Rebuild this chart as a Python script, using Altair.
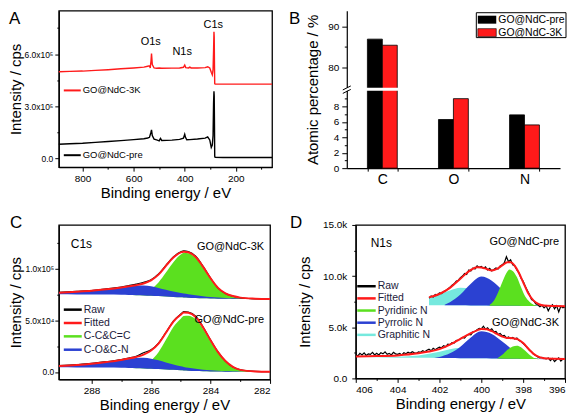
import altair as alt
import pandas as pd

FONT = "Liberation Sans"
RED = "#ff1a1a"
GREEN = "#5be01f"
BLUE = "#2b41d2"
CYAN = "#76e9de"
TXT = "#1c1c3c"

# ---------------- Panel A: survey spectra (units of 1e5 cps) ----------------
a_unit = 1e5
a_pre_x = [893, 850, 800, 750, 700, 650, 600, 560, 545, 538, 533, 530, 527, 520, 510, 500, 495, 490, 450, 420,
           405, 400, 397, 392, 380, 350, 320, 310, 302, 296, 292, 289, 287, 285.5, 284.5, 283.5, 282.5, 281, 250, 150, 58]
a_pre_y = [0.80, 0.83, 0.86, 0.91, 0.96, 1.01, 1.07, 1.12, 1.16, 1.20, 1.45, 1.63, 1.30, 1.10, 1.05, 1.00, 1.14, 1.02, 1.04, 1.08,
           1.15, 1.38, 1.20, 1.06, 1.07, 1.10, 1.15, 1.22, 1.05, 0.62, 0.75, 1.30, 3.20, 3.85, 3.60, 2.00, 0.10, 0.05, 0.04, 0.04, 0.04]
a_3k_x = [893, 850, 800, 750, 700, 650, 600, 560, 545, 538, 535, 532, 530, 527, 520, 510, 500, 490, 450, 420,
          405, 400, 396, 385, 380, 375, 350, 320, 310, 302, 296, 292, 289, 287, 285.5, 284.5, 283.5, 282.5, 281, 250, 150, 58]
a_3k_y = [4.98, 5.00, 5.02, 5.06, 5.10, 5.15, 5.20, 5.25, 5.30, 5.32, 5.20, 5.60, 6.03, 5.40, 5.20, 5.18, 5.20, 5.18, 5.19, 5.20,
          5.24, 5.37, 5.22, 5.20, 5.25, 5.20, 5.20, 5.22, 5.27, 5.20, 4.95, 4.80, 5.10, 6.20, 7.28, 7.00, 5.40, 4.30, 4.27, 4.27, 4.27, 4.27]
a_peak_names = ["O1s", "N1s", "C1s"]
a_peak_x = [533, 410, 288]
a_peak_y = [6.67, 6.13, 7.70]

# ---------------- Panel B: atomic percentages ----------------
b_elements = ["C", "O", "N"]
b_series = ["GO@NdC-pre", "GO@NdC-3K"]
b_pre = [86.9, 6.3, 6.9]
b_3k = [85.4, 9.0, 5.6]

# ---------------- Panel C: C1s (units of 1e3 cps) ----------------
c_x = [289.1, 288.5, 288, 287.5, 287, 286.75, 286.5, 286.25, 286, 285.75, 285.5, 285.25,
       285, 284.9, 284.75, 284.5, 284.25, 284, 283.75, 283.5, 283.25, 283, 282.5, 282]
c3_base = [75, 74.9, 74.8, 74.7, 74.5, 74.3, 74.1, 73.9, 73.6, 73.3, 72.9, 72.5,
           72.1, 71.9, 71.7, 71.4, 71.1, 70.9, 70.7, 70.6, 70.5, 70.4, 70.3, 70.2]
c3_blue = [76.5, 77.4, 78.3, 79.6, 81.4, 82.4, 83.2, 83.5, 82.8, 81.2, 79.4, 77.7,
           76.2, 75.7, 75.0, 74.0, 73.2, 72.5, 71.9, 71.5, 71.2, 70.9, 70.5, 70.2]
c3_green = [75, 74.9, 74.8, 74.7, 74.6, 74.6, 75.0, 76.5, 80.0, 86.5, 96.0, 106.0,
            113.5, 114.8, 114.6, 110.0, 100.5, 89.5, 80.5, 75.5, 72.8, 71.4, 70.5, 70.2]
c3_fit = [76.6, 77.5, 78.4, 79.8, 81.6, 82.7, 83.8, 85.5, 88.5, 94.0, 102.5, 110.5,
          115.5, 116.2, 115.6, 111.0, 101.5, 90.5, 81.2, 76.0, 73.3, 71.8, 70.8, 70.4]
c3_raw = [76.9, 77.8, 78.6, 80.2, 81.9, 83.4, 84.9, 86.6, 89.0, 94.6, 102.9, 111.0,
          116.0, 116.9, 116.3, 111.8, 102.0, 90.6, 81.0, 75.8, 73.1, 71.7, 70.7, 70.3]
cp_base = [4.5, 4.4, 4.3, 4.2, 4.0, 3.8, 3.6, 3.4, 3.1, 2.8, 2.4, 2.0,
           1.6, 1.4, 1.2, 0.9, 0.7, 0.5, 0.4, 0.3, 0.3, 0.2, 0.2, 0.2]
cp_blue = [5.6, 6.6, 7.8, 9.4, 11.4, 12.6, 13.5, 13.6, 12.8, 11.2, 9.2, 7.2,
           5.4, 4.8, 4.0, 3.0, 2.2, 1.6, 1.1, 0.8, 0.6, 0.4, 0.2, 0.2]
cp_green = [4.5, 4.4, 4.3, 4.2, 4.1, 4.1, 4.6, 6.5, 11.0, 19.0, 31.0, 43.5,
            51.5, 54.0, 54.3, 51.0, 41.5, 29.5, 18.5, 10.0, 4.5, 1.8, 0.5, 0.2]
cp_fit = [5.8, 6.8, 8.0, 9.6, 11.5, 12.9, 14.5, 16.7, 20.7, 27.4, 37.8, 48.7,
          55.3, 57.4, 57.1, 53.1, 43.0, 30.6, 19.2, 10.5, 4.8, 2.0, 0.5, 0.2]
cp_raw = [6.1, 7.1, 8.2, 9.9, 11.9, 13.4, 15.2, 18.6, 21.4, 27.9, 38.2, 49.0,
          56.0, 58.3, 57.9, 54.0, 43.4, 30.9, 19.3, 10.4, 4.7, 2.1, 0.6, 0.3]

# ---------------- Panel D: N1s (units of 1e3 cps) ----------------
d_pre_fit_x = [402.5, 402, 401.5, 401, 400.5, 400.2, 400, 399.75, 399.5, 399.25, 399, 398.75, 398.6, 398.4,
               398.2, 398, 397.75, 397.5, 397.25, 397, 396.5, 396]
d_pre_fit_y = [7.92, 8.25, 8.85, 9.75, 10.6, 10.87, 10.85, 10.7, 10.55, 10.7, 11.05, 11.35, 11.35, 11.0,
               10.3, 9.4, 8.3, 7.6, 7.25, 7.12, 7.08, 7.06]
d_pre_raw_y = [7.85, 8.05, 7.95, 8.2, 8.15, 8.35,
               8.3, 8.5, 8.6, 8.75, 8.9, 9.1, 9.25, 9.5, 9.6, 9.85,
               10.0, 10.25, 10.15, 10.6, 10.5, 10.8, 10.7, 11.0, 10.85, 10.95,
               10.75, 10.9, 10.6, 10.75, 10.5, 10.65, 10.8, 10.7, 11.0, 11.1,
               11.3, 11.9, 11.4, 11.6, 11.1, 11.0, 10.6, 10.3, 9.8, 9.5,
               9.0, 8.6, 8.2, 7.7, 7.6, 7.3, 7.2, 7.0, 7.15, 6.9,
               7.1, 6.6, 7.0, 7.2, 6.8, 7.1, 6.5, 7.05, 6.9, 7.0]
d_pre_cyan_x = [402.5, 402, 401.5, 401, 400.5, 400, 399.5, 399, 398.5, 398, 397.5]
d_pre_cyan_top = [7.85, 8.25, 8.6, 8.85, 8.75, 8.4, 7.95, 7.55, 7.3, 7.15, 7.1]
d_pre_cyan_base = [7.15, 7.15, 7.14, 7.14, 7.13, 7.12, 7.11, 7.1, 7.1, 7.08, 7.07]
d_pre_blue_x = [401.75, 401.5, 401, 400.5, 400, 399.5, 399, 398.5, 398, 397.5, 397]
d_pre_blue_top = [7.2, 7.45, 8.2, 9.25, 9.95, 9.55, 8.65, 7.8, 7.35, 7.15, 7.1]
d_pre_blue_base = [7.14, 7.14, 7.14, 7.13, 7.12, 7.11, 7.1, 7.1, 7.08, 7.07, 7.07]
d_pre_green_x = [399.6, 399.4, 399.2, 399, 398.8, 398.65, 398.5, 398.3, 398.1, 397.9, 397.7, 397.5, 397.3]
d_pre_green_top = [7.2, 7.6, 8.4, 9.4, 10.3, 10.65, 10.5, 9.9, 8.9, 8.0, 7.5, 7.2, 7.1]
d_pre_green_base = [7.11, 7.11, 7.1, 7.1, 7.1, 7.1, 7.1, 7.09, 7.08, 7.08, 7.07, 7.07, 7.07]

d_3k_fit_x = [406, 405, 404, 403, 402.5, 402, 401.5, 401, 400.5, 400.2, 400, 399.75, 399.5, 399.25, 399,
              398.75, 398.5, 398.25, 398, 397.75, 397.5, 397.25, 397, 396.5, 396]
d_3k_fit_y = [2.15, 2.18, 2.25, 2.45, 2.62, 2.86, 3.3, 3.87, 4.42, 4.7, 4.82, 4.8, 4.62, 4.35, 4.1,
              3.95, 3.93, 3.82, 3.45, 2.9, 2.4, 2.1, 1.98, 1.92, 1.9]
d_3k_raw_y = [2.35, 2.2, 2.45, 2.3, 2.5, 2.25, 2.4, 2.35, 2.55, 2.3, 2.45,
              2.3, 2.5, 2.4, 2.6, 2.35, 2.45, 2.3, 2.55, 2.4, 2.35,
              2.45, 2.3, 2.5, 2.4, 2.55, 2.45, 2.6, 2.5, 2.45, 2.6,
              2.55, 2.7, 2.6, 2.75, 2.85, 2.7, 2.95, 2.8, 2.95, 3.05,
              3.0, 3.2, 3.1, 3.35, 3.3, 3.5, 3.45, 3.7, 3.75, 3.85,
              4.0, 3.95, 4.2, 4.3, 4.25, 4.55, 4.6, 4.75, 4.9, 4.85,
              5.1, 4.8, 4.95, 4.7, 4.85, 4.55, 4.6, 4.3, 4.4, 4.15,
              4.2, 3.95, 4.05, 3.9, 4.0, 3.85, 3.95, 3.7, 3.6, 3.4,
              3.2, 3.0, 2.75, 2.6, 2.35, 2.25, 2.1, 2.0, 2.05, 1.95,
              1.9, 2.0, 1.75, 1.95, 1.65, 1.85, 2.0, 1.7, 1.9, 1.85]
d_3k_cyan_x = [406, 405, 404, 403, 402, 401.5, 401, 400.5, 400, 399.5, 399, 398.5, 398, 397.5]
d_3k_cyan_top = [2.05, 2.07, 2.12, 2.25, 2.6, 2.85, 3.0, 2.95, 2.72, 2.4, 2.15, 1.98, 1.92, 1.9]
d_3k_cyan_base = [2.04, 2.04, 2.03, 2.02, 2.0, 1.99, 1.98, 1.97, 1.96, 1.95, 1.93, 1.92, 1.9, 1.89]
d_3k_blue_x = [402.25, 402, 401.5, 401, 400.5, 400, 399.5, 399, 398.5, 398, 397.5, 397]
d_3k_blue_top = [2.0, 2.1, 2.45, 3.1, 4.0, 4.6, 4.35, 3.6, 2.8, 2.25, 1.98, 1.9]
d_3k_blue_base = [2.0, 2.0, 1.99, 1.98, 1.97, 1.96, 1.95, 1.93, 1.92, 1.9, 1.89, 1.88]
d_3k_green_x = [399.25, 399, 398.75, 398.5, 398.3, 398.1, 397.9, 397.7, 397.5, 397.25]
d_3k_green_top = [1.95, 2.3, 2.8, 3.12, 3.2, 3.05, 2.7, 2.3, 2.02, 1.9]
d_3k_green_base = [1.94, 1.93, 1.92, 1.92, 1.91, 1.9, 1.9, 1.89, 1.89, 1.88]

# sampling grids of the raw N1s traces (0.1 eV steps)
d_pre_raw_x = [round(402.5 - 0.1 * i, 1) for i in range(len(d_pre_raw_y))]
d_3k_raw_x = [round(406.0 - 0.1 * i, 1) for i in range(len(d_3k_raw_y))]


# ---------------- helpers ----------------
def one():
    return alt.Data(values=[{"k": 0}])


def txt(text, x, y, size=11, align="left", baseline="middle", color="black"):
    return alt.Chart(one()).mark_text(text=text, font=FONT, fontSize=size, align=align,
                                      baseline=baseline, color=color).encode(x=alt.value(x), y=alt.value(y))


def hline(x1, x2, y, color, width=2.5):
    return alt.Chart(one()).mark_rule(color=color, strokeWidth=width).encode(
        x=alt.value(x1), x2=alt.value(x2), y=alt.value(y))


def seg(x1, y1, x2, y2, color="black", width=1):
    return alt.Chart(one()).mark_rule(color=color, strokeWidth=width).encode(
        x=alt.value(x1), x2=alt.value(x2), y=alt.value(y1), y2=alt.value(y2))


def box(x1, x2, y1, y2, fill, stroke=None, sw=1.0):
    kw = dict(fill=fill)
    if stroke:
        kw.update(stroke=stroke, strokeWidth=sw)
    return alt.Chart(one()).mark_rect(**kw).encode(
        x=alt.value(x1), x2=alt.value(x2), y=alt.value(y1), y2=alt.value(y2))


def letter(ch, x, y):
    return txt(ch, x, y, size=17, baseline="top")


def tick_size(test, major=4, minor=2):
    return {"condition": {"test": test, "value": major}, "value": minor}


# ---------------- Panel A ----------------
a_xs = alt.Scale(domain=[58, 893], reverse=True, nice=False, zero=False)
a_ys = alt.Scale(domain=[-0.52e5, 8.5e5], nice=False, zero=False)
a_xa = alt.Axis(values=[800, 700, 600, 500, 400, 300, 200, 100],
                labelExpr="datum.value % 200 === 0 ? datum.label : ''",
                tickSize=tick_size("datum.value % 200 === 0"), title="Binding energy / eV")
a_ya = alt.Axis(values=[0, 150000, 300000, 450000, 600000, 750000],
                labelExpr="datum.value === 0 ? '0.0' : (datum.value % 300000 === 0 ? format(datum.value / 100000, '.1f') + 'x10⁵' : '')",
                tickSize=tick_size("datum.value % 300000 === 0"), title="Intensity / cps",
                labelFontSize=8.5, minExtent=33, maxExtent=33)


def a_line(xs, ys, color):
    df = pd.DataFrame({"x": xs, "y": [v * a_unit for v in ys]})
    return alt.Chart(df).mark_line(color=color, strokeWidth=1.4).encode(
        x=alt.X("x:Q", scale=a_xs, axis=a_xa), y=alt.Y("y:Q", scale=a_ys, axis=a_ya))


a_peaks = alt.Chart(pd.DataFrame({"name": a_peak_names, "x": a_peak_x,
                                  "y": [v * a_unit for v in a_peak_y]})).mark_text(
    font=FONT, fontSize=11, color="black").encode(
    x=alt.X("x:Q", scale=a_xs, axis=a_xa), y=alt.Y("y:Q", scale=a_ys, axis=a_ya), text="name:N")

panel_a = alt.layer(
    a_line(a_pre_x, a_pre_y, "black"),
    a_line(a_3k_x, a_3k_y, RED),
    a_peaks,
    hline(5, 22, 80, RED, 2), txt("GO@NdC-3K", 24, 80, 9.5),
    hline(5, 22, 145, "black", 2), txt("GO@NdC-pre", 24, 145, 9.5),
    letter("A", -50, 0),
).properties(width=214, height=157)

# ---------------- Panel B ----------------
b_df = pd.DataFrame({"element": b_elements * 2,
                     "series": [b_series[0]] * 3 + [b_series[1]] * 3,
                     "value": b_pre + b_3k})
b_test = "(datum.value < 20 && datum.value % 2 === 0) || datum.value % 10 === 0"
b_bars = alt.Chart(b_df).mark_bar(stroke="black", strokeWidth=0.8).encode(
    x=alt.X("element:N", sort=b_elements, scale=alt.Scale(paddingInner=0.58, paddingOuter=0.29),
            axis=alt.Axis(title=None, labelFontSize=14, labelAngle=0, tickBand="extent", tickSize=3,
                          labelPadding=1)),
    xOffset=alt.XOffset("series:N", sort=b_series, scale=alt.Scale(paddingInner=0, paddingOuter=0)),
    y=alt.Y("value:Q", stack=None,
            scale=alt.Scale(domain=[0, 10, 75, 93.9], range=[158, 80.5, 77, 0], nice=False, zero=False),
            axis=alt.Axis(values=[0, 1, 2, 3, 4, 5, 6, 7, 8, 9, 80, 85, 90],
                          labelExpr="(" + b_test + ") ? datum.label : ''",
                          tickSize=tick_size(b_test, 5, 2.5), labelPadding=3,
                          title="Atomic percentage / %", minExtent=24, maxExtent=24)),
    color=alt.Color("series:N", scale=alt.Scale(domain=b_series, range=["black", RED]), legend=None),
)
panel_b = alt.layer(
    b_bars,
    box(-1, 214, 77.3, 80.3, "white"),
    seg(-4, 79.5, 4, 75.5), seg(-4, 83, 4, 79),
    box(130, 220, 2, 27, "white", "black", 1),
    box(131.5, 150, 5, 13, "black"), txt("GO@NdC-pre", 152, 9, 10.5),
    box(131.5, 150, 18, 26, RED, "black", 0.6), txt("GO@NdC-3K", 152, 22, 10.5),
    letter("B", -58, 0),
).properties(width=214, height=158, view=alt.ViewBackground(stroke="transparent"))

# ---------------- Panel C ----------------
c_xs = alt.Scale(domain=[282, 289.1], reverse=True, nice=False, zero=False)
c_ys = alt.Scale(domain=[-7.2e3, 1.42e5], nice=False, zero=False)
c_xa = alt.Axis(values=[288, 287, 286, 285, 284, 283, 282],
                labelExpr="datum.value % 2 === 0 ? datum.label : ''",
                tickSize=tick_size("datum.value % 2 === 0"), title="Binding energy / eV")
c_ya = alt.Axis(values=[0, 25000, 50000, 75000, 100000, 125000],
                labelExpr="datum.value === 0 ? '0.0' : (datum.value === 50000 ? '5.0x10⁴' : (datum.value === 100000 ? '1.0x10⁵' : ''))",
                tickSize=tick_size("datum.value % 50000 === 0"), title="Intensity / cps",
                labelFontSize=8.5, labelPadding=1, minExtent=33, maxExtent=33)


def c_frame(base, blue, green, fit, raw):
    return pd.DataFrame({"x": c_x, "base": [v * 1e3 for v in base], "blue": [v * 1e3 for v in blue],
                         "green": [v * 1e3 for v in green], "fit": [v * 1e3 for v in fit],
                         "raw": [v * 1e3 for v in raw]})


def c_area(df, field, color):
    return alt.Chart(df).mark_area(color=color, clip=True, interpolate="monotone").encode(
        x=alt.X("x:Q", scale=c_xs, axis=c_xa), y=alt.Y(field + ":Q", scale=c_ys, axis=c_ya),
        y2=alt.Y2("base:Q"))


def c_line(df, field, color, w):
    return alt.Chart(df).mark_line(color=color, strokeWidth=w, clip=True, interpolate="monotone").encode(
        x=alt.X("x:Q", scale=c_xs, axis=c_xa), y=alt.Y(field + ":Q", scale=c_ys, axis=c_ya))


c3 = c_frame(c3_base, c3_blue, c3_green, c3_fit, c3_raw)
cp = c_frame(cp_base, cp_blue, cp_green, cp_fit, cp_raw)
c_leg = [("Raw", "black"), ("Fitted", RED), ("C-C&C=C", GREEN), ("C-O&C-N", BLUE)]
c_leg_layers = []
for i, (lab, col) in enumerate(c_leg):
    yy = 85 + i * 13.4
    c_leg_layers += [hline(5, 23, yy, col, 2.5), txt(lab, 25, yy, 10.5, color=TXT)]

panel_c = alt.layer(
    c_area(c3, "green", GREEN), c_area(c3, "blue", BLUE),
    c_area(cp, "green", GREEN), c_area(cp, "blue", BLUE),
    c_line(c3, "raw", "black", 1.2), c_line(c3, "fit", RED, 2),
    c_line(cp, "raw", "black", 1.2), c_line(cp, "fit", RED, 2),
    txt("C1s", 12, 19, 12),
    txt("GO@NdC-3K", 206, 22, 11, align="right"),
    txt("GO@NdC-pre", 206, 95, 11, align="right"),
    *c_leg_layers,
    letter("C", -49, -10),
).properties(width=212, height=155)

# ---------------- Panel D ----------------
d_xs = alt.Scale(domain=[396, 406], reverse=True, nice=False, zero=False)
d_ys = alt.Scale(domain=[0, 15000], nice=False, zero=False)
d_xa = alt.Axis(values=[406, 405, 404, 403, 402, 401, 400, 399, 398, 397, 396],
                labelExpr="datum.value % 2 === 0 ? datum.label : ''",
                tickSize=tick_size("datum.value % 2 === 0"), title="Binding energy / eV")
d_ya = alt.Axis(values=[0, 2500, 5000, 7500, 10000, 12500, 15000],
                labelExpr="datum.value === 0 ? '0.0' : (datum.value % 5000 === 0 ? format(datum.value / 1000, '.1f') + 'k' : '')",
                tickSize=tick_size("datum.value % 5000 === 0"), title="Intensity / cps",
                labelPadding=5, minExtent=41, maxExtent=41)


def d_area(xs, top, base, color):
    df = pd.DataFrame({"x": xs, "top": [v * 1e3 for v in top], "base": [v * 1e3 for v in base]})
    return alt.Chart(df).mark_area(color=color, clip=True, interpolate="monotone").encode(
        x=alt.X("x:Q", scale=d_xs, axis=d_xa), y=alt.Y("top:Q", scale=d_ys, axis=d_ya),
        y2=alt.Y2("base:Q"))


def d_line(xs, ys, color, w, interp):
    df = pd.DataFrame({"x": xs, "y": [v * 1e3 for v in ys]})
    return alt.Chart(df).mark_line(color=color, strokeWidth=w, clip=True, interpolate=interp).encode(
        x=alt.X("x:Q", scale=d_xs, axis=d_xa), y=alt.Y("y:Q", scale=d_ys, axis=d_ya))


d_leg = [("Raw", "black"), ("Fitted", RED), ("Pyridinic N", GREEN), ("Pyrrolic N", BLUE),
         ("Graphitic N", CYAN)]
d_leg_layers = []
for i, (lab, col) in enumerate(d_leg):
    yy = 61.5 + i * 12.2
    d_leg_layers += [hline(1.5, 20, yy, col, 2.5), txt(lab, 22, yy, 10.5, color=TXT)]

panel_d = alt.layer(
    d_area(d_pre_cyan_x, d_pre_cyan_top, d_pre_cyan_base, CYAN),
    d_area(d_pre_blue_x, d_pre_blue_top, d_pre_blue_base, BLUE),
    d_area(d_pre_green_x, d_pre_green_top, d_pre_green_base, GREEN),
    d_area(d_3k_cyan_x, d_3k_cyan_top, d_3k_cyan_base, CYAN),
    d_area(d_3k_blue_x, d_3k_blue_top, d_3k_blue_base, BLUE),
    d_area(d_3k_green_x, d_3k_green_top, d_3k_green_base, GREEN),
    d_line(d_pre_raw_x, d_pre_raw_y, "black", 1.2, "linear"),
    d_line(d_3k_raw_x, d_3k_raw_y, "black", 1.2, "linear"),
    d_line(d_pre_fit_x, d_pre_fit_y, RED, 2, "monotone"),
    d_line(d_3k_fit_x, d_3k_fit_y, RED, 2, "monotone"),
    txt("N1s", 15, 18, 12),
    txt("GO@NdC-pre", 204, 17, 11, align="right"),
    txt("GO@NdC-3K", 204, 98.5, 11, align="right"),
    *d_leg_layers,
    letter("D", -66, -10),
).properties(width=210, height=154)

# ---------------- assemble ----------------
row1 = alt.hconcat(panel_a, panel_b, spacing=75, bounds="flush")
row2 = alt.hconcat(panel_c, panel_d, spacing=86, bounds="flush")

chart = alt.vconcat(row1, row2, spacing=12).properties(padding=0).configure_view(
    stroke="black", strokeWidth=1.3
).configure_axis(
    labelFont=FONT, titleFont=FONT, labelColor="black", titleColor="black",
    domainColor="black", tickColor="black", domainWidth=1.2, tickWidth=1,
    titleFontWeight="normal", titleFontSize=15, labelFontSize=10, labelPadding=2,
    titlePadding=2, grid=False
).configure_text(font=FONT)

chart.save("out.html", embed_options={"renderer": "svg", "actions": False})
